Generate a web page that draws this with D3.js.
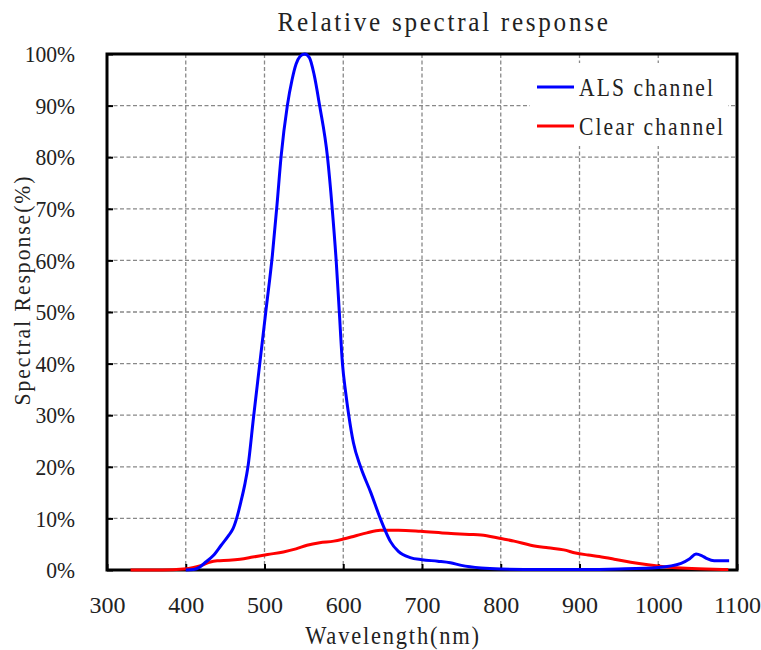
<!DOCTYPE html>
<html>
<head>
<meta charset="utf-8">
<script src="https://cdn.jsdelivr.net/npm/d3@7"></script>
<style>
  html, body { margin: 0; padding: 0; background: #fff; }
  svg text { font-family: "Liberation Serif", "DejaVu Serif", serif; fill: #222; }
</style>
</head>
<body>
<svg id="chart" width="761" height="650"></svg>
<script>
// ---- data ----
const alsWavelength = [400,410,418,425,435,445,455,460,465,470,475,479,486,494,502,510,516,521,529,535,540,545,551,557,563,570,580,586,591,595,599,603,607,613,622,635,647,654,660,670,685,700,720,736,750,775,800,850,900,950,1000,1029,1040,1048,1055,1062,1071,1090];
const alsValues     = [0,0.1,0.6,1.5,2.8,4.8,6.8,8,10.2,13.2,16.6,20,29.5,40,50.5,61,71,80,90,95,98,99.5,100,99.3,96,90,80,70,60,50,40,34.5,30,24.6,20,15,10,7.4,5.5,3.6,2.4,2.0,1.7,1.4,0.9,0.4,0.2,0.1,0.1,0.2,0.5,1.3,2.2,3.1,2.8,2.2,1.8,1.8];
const clearWavelength = [330,370,397,410,420,430,440,455,469,485,504,524,540,554,570,588,600,615,630,647,670,698,733,760,775,800,817,838,860,880,895,911,925,944,965,987,1010,1029,1060,1089];
const clearValues     = [0,0,0.2,0.5,0.9,1.5,1.8,1.9,2.1,2.5,3.0,3.5,4.1,4.8,5.3,5.6,6.0,6.6,7.2,7.7,7.7,7.5,7.1,6.9,6.8,6.1,5.6,4.8,4.3,3.9,3.3,2.9,2.6,2.1,1.5,1.0,0.6,0.4,0.2,0.1];
const xTicks = [300,400,500,600,700,800,900,1000,1100];
const yTicks = [0,10,20,30,40,50,60,70,80,90,100];
const seriesNames = ["ALS channel", "Clear channel"];
const seriesColors = ["#0000ff", "#ff0000"];
const titleText = "Relative spectral response";
const xLabel = "Wavelength(nm)";
const yLabel = "Spectral Response(%)";

// ---- layout ----
const svg = d3.select("#chart");
const pLeft = 107, pRight = 737, pTop = 54, pBottom = 570;
const x = d3.scaleLinear().domain([300, 1100]).range([pLeft, pRight]);
const y = d3.scaleLinear().domain([0, 100]).range([pBottom, pTop]);

// grid
const grid = svg.append("g");
grid.selectAll(".vg").data(xTicks.slice(1, -1)).enter().append("line")
  .attr("x1", d => x(d)).attr("x2", d => x(d)).attr("y1", pTop).attr("y2", pBottom)
  .attr("stroke", "#888").attr("stroke-width", 1.3).attr("stroke-dasharray", "4,2.5");
grid.selectAll(".hg").data(yTicks.slice(1, -1)).enter().append("line")
  .attr("x1", pLeft).attr("x2", pRight).attr("y1", d => y(d)).attr("y2", d => y(d))
  .attr("stroke", "#888").attr("stroke-width", 1.3).attr("stroke-dasharray", "4,2.5");

// axes
const xAxis = svg.append("g").attr("transform", `translate(0,${pBottom})`)
  .call(d3.axisBottom(x).tickValues(xTicks).tickSize(-6).tickPadding(26).tickFormat(d3.format("d")));
xAxis.select(".domain").remove();
xAxis.selectAll("line").attr("stroke", "#000").attr("stroke-width", 2);
xAxis.selectAll("text").attr("font-size", 24).attr("fill", "#222")
  .attr("font-family", "Liberation Serif").attr("dy", "0.71em");

const yAxis = svg.append("g").attr("transform", `translate(${pLeft},0)`)
  .call(d3.axisLeft(y).tickValues(yTicks).tickSize(-6).tickPadding(35.5).tickFormat(d => d + "%"));
yAxis.select(".domain").remove();
yAxis.selectAll("line").attr("stroke", "#000").attr("stroke-width", 2);
yAxis.selectAll("text").attr("font-size", 24).attr("fill", "#222")
  .attr("font-family", "Liberation Serif").attr("transform", "scale(0.9,1)");

// frame
svg.append("rect").attr("x", pLeft).attr("y", pTop).attr("width", pRight - pLeft).attr("height", pBottom - pTop)
  .attr("fill", "none").attr("stroke", "#000").attr("stroke-width", 3);

// lines
const line = d3.line().x(d => x(d[0])).y(d => y(d[1])).curve(d3.curveMonotoneX);
const clearData = clearWavelength.map((w, i) => [w, clearValues[i]]);
const alsData = alsWavelength.map((w, i) => [w, alsValues[i]]);
svg.append("path").datum(clearData).attr("d", line).attr("fill", "none")
  .attr("stroke", seriesColors[1]).attr("stroke-width", 3).attr("stroke-linejoin", "round");
svg.append("path").datum(alsData).attr("d", line).attr("fill", "none")
  .attr("stroke", seriesColors[0]).attr("stroke-width", 3).attr("stroke-linejoin", "round");

// legend
const lg = svg.append("g");
lg.append("rect").attr("x", 530).attr("y", 63).attr("width", 198).attr("height", 83).attr("fill", "#fff");
seriesNames.forEach((name, i) => {
  const ly = 87 + i * 39;
  lg.append("line").attr("x1", 537).attr("x2", 574).attr("y1", ly).attr("y2", ly)
    .attr("stroke", seriesColors[i]).attr("stroke-width", 3);
  lg.append("text").attr("transform", `translate(579,${ly + 9}) scale(0.83,1)`)
    .attr("font-size", 26).attr("letter-spacing", 2.5).text(name);
});

// title & labels
svg.append("text").attr("transform", "translate(444,31) scale(0.9,1)").attr("text-anchor", "middle")
  .attr("font-size", 28).attr("letter-spacing", 3).text(titleText);
svg.append("text").attr("transform", "translate(393,644) scale(0.9,1)").attr("text-anchor", "middle")
  .attr("font-size", 25).attr("letter-spacing", 2).text(xLabel);
svg.append("text").attr("transform", "translate(30,290) rotate(-90) scale(0.9,1)").attr("text-anchor", "middle")
  .attr("font-size", 24).attr("letter-spacing", 2.2).text(yLabel);
</script>
</body>
</html>
